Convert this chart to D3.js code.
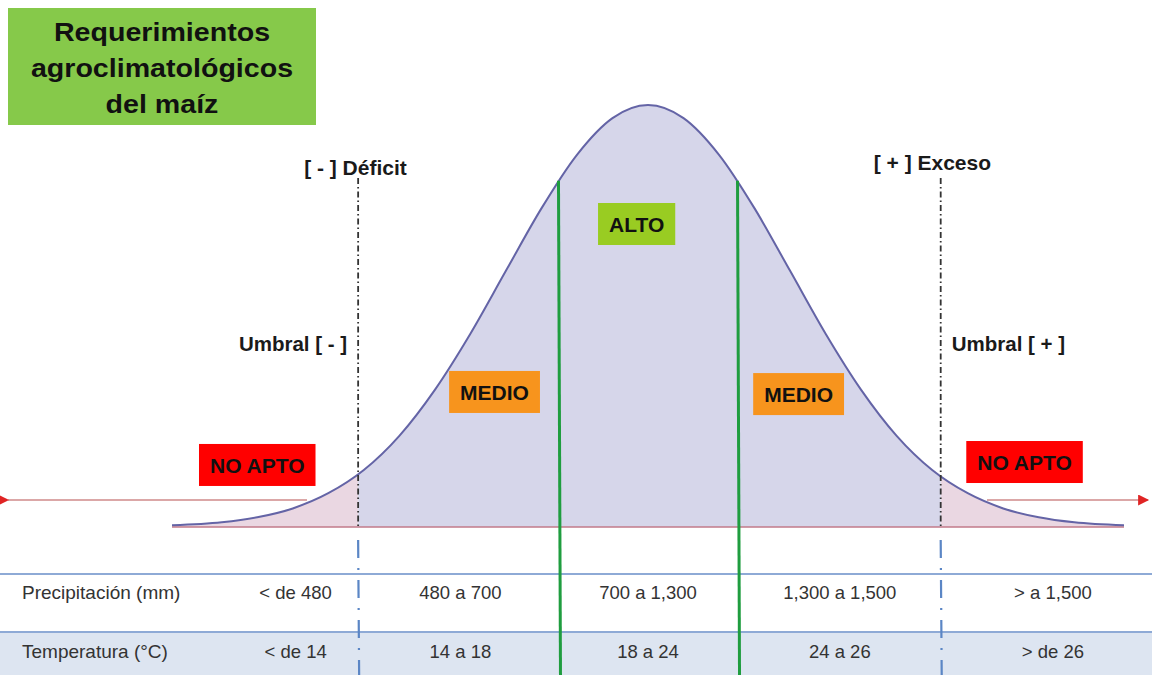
<!DOCTYPE html>
<html>
<head>
<meta charset="utf-8">
<script src="https://cdn.jsdelivr.net/npm/d3@7"></script>
<style>
  body { margin: 0; background: #fff; }
  svg text { font-family: 'Liberation Sans', Arial, sans-serif; }
</style>
</head>
<body>
<div id="chart"></div>
<script>
// bell curve, x in sigma units, height relative to peak
const curveZ = [-3.35, -3, -2.75, -2.5, -2.25, -2, -1.75, -1.5, -1.25, -1, -0.75, -0.5, -0.25, 0,
  0.25, 0.5, 0.75, 1, 1.25, 1.5, 1.75, 2, 2.25, 2.5, 2.75, 3, 3.35];
const curveH = [0.004, 0.011, 0.023, 0.044, 0.08, 0.135, 0.216, 0.325, 0.458, 0.607, 0.755, 0.882, 0.969, 1,
  0.969, 0.882, 0.755, 0.607, 0.458, 0.325, 0.216, 0.135, 0.08, 0.044, 0.023, 0.011, 0.004];

const titleLines = ['Requerimientos', 'agroclimatológicos', 'del maíz'];
const thresholds = [-2.04, 2.06];
const thresholdLabels = ['[ - ] Déficit', '[ + ] Exceso'];
const umbralLabels = ['Umbral [ - ]', 'Umbral [ + ]'];
const optimum = [-0.63, 0.63];

const zoneLabels = ['NO APTO', 'MEDIO', 'ALTO', 'MEDIO', 'NO APTO'];
const zoneZ = [-2.75, -1.08, -0.08, 1.06, 2.65];
const zoneH = [0.147, 0.32, 0.718, 0.315, 0.154];

const rowLabels = ['Precipitación (mm)', 'Temperatura (°C)'];
const colZ = [-2.48, -1.32, 0, 1.35, 2.85];
const precipitation = ['< de 480', '480 a 700', '700 a 1,300', '1,300 a 1,500', '> a 1,500'];
const temperature = ['< de 14', '14 a 18', '18 a 24', '24 a 26', '> de 26'];

const zoneColors = { 'NO APTO': '#ff0000', MEDIO: '#f7941d', ALTO: '#99cc22' };

const width = 1152;
const height = 675;
const baseY = 527;

const svg = d3.select('#chart').append('svg')
  .attr('width', width)
  .attr('height', height);

const x = d3.scaleLinear().domain([-3.35, 3.35]).range([172, 1124]);
const y = d3.scaleLinear().domain([0, 1]).range([baseY, 105]);

const points = curveZ.map((z, i) => ({ z, h: curveH[i] }));
const hAt = (z) => {
  // read height back off the sampled curve
  const i = d3.bisector((d) => d.z).left(points, z);
  if (i <= 0) return points[0].h;
  const a = points[i - 1], b = points[i];
  const t = (z - a.z) / (b.z - a.z);
  return a.h + (b.h - a.h) * t;
};

const curve = d3.curveMonotoneX;
const area = d3.area()
  .x((d) => x(d.z))
  .y0(baseY)
  .y1((d) => y(d.h))
  .curve(curve);
const line = d3.line()
  .x((d) => x(d.z))
  .y((d) => y(d.h))
  .curve(curve);

const defs = svg.append('defs');
defs.append('clipPath').attr('id', 'tails')
  .selectAll('rect')
  .data([[-4, thresholds[0]], [thresholds[1], 4]])
  .join('rect')
    .attr('x', (d) => x(d[0]))
    .attr('width', (d) => x(d[1]) - x(d[0]))
    .attr('y', 0)
    .attr('height', height);
defs.append('clipPath').attr('id', 'middle')
  .append('rect')
    .attr('x', x(thresholds[0]))
    .attr('width', x(thresholds[1]) - x(thresholds[0]))
    .attr('y', 0)
    .attr('height', height);
['left', 'right'].forEach((dir) => {
  defs.append('marker')
    .attr('id', `arrow-${dir}`)
    .attr('viewBox', '0 0 10 10')
    .attr('refX', dir === 'right' ? 9 : 1)
    .attr('refY', 5)
    .attr('markerWidth', 12)
    .attr('markerHeight', 11)
    .attr('markerUnits', 'userSpaceOnUse')
    .attr('orient', 'auto')
  .append('path')
    .attr('d', dir === 'right' ? 'M0,0L10,5L0,10Z' : 'M10,0L0,5L10,10Z')
    .attr('fill', '#e02424');
});

// title box
const title = svg.append('g');
title.append('rect')
  .attr('x', 8).attr('y', 8)
  .attr('width', 308).attr('height', 117)
  .attr('fill', '#86c94a');
title.selectAll('text')
  .data(titleLines)
  .join('text')
    .attr('transform', (d, i) => `translate(162, ${41 + i * 36}) scale(1.1, 1)`)
    .attr('text-anchor', 'middle')
    .attr('font-size', 26)
    .attr('font-weight', 'bold')
    .attr('fill', '#111')
    .text((d) => d);

// table
svg.append('rect')
  .attr('x', 0).attr('y', 632)
  .attr('width', width).attr('height', height - 632)
  .attr('fill', '#dde5f1');
svg.selectAll('.row-line')
  .data([574, 632])
  .join('line')
    .attr('class', 'row-line')
    .attr('x1', 0).attr('x2', width)
    .attr('y1', (d) => d).attr('y2', (d) => d)
    .attr('stroke', '#8eaad6')
    .attr('stroke-width', 2);

// area fills
svg.append('path')
  .datum(points)
  .attr('d', area)
  .attr('fill', '#ead7e2')
  .attr('clip-path', 'url(#tails)');
svg.append('path')
  .datum(points)
  .attr('d', area)
  .attr('fill', '#d6d6ea')
  .attr('clip-path', 'url(#middle)');

// baseline
svg.append('line')
  .attr('x1', x(-3.35)).attr('x2', x(3.35))
  .attr('y1', baseY).attr('y2', baseY)
  .attr('stroke', '#c27a8a')
  .attr('stroke-width', 1.5);

// arrows
svg.append('line')
  .attr('x1', 307).attr('x2', 8)
  .attr('y1', 500).attr('y2', 500)
  .attr('stroke', '#cf8a8a')
  .attr('stroke-width', 1.5)
  .attr('marker-end', 'url(#arrow-left)');
svg.append('line')
  .attr('x1', 987).attr('x2', 1148)
  .attr('y1', 500).attr('y2', 500)
  .attr('stroke', '#cf8a8a')
  .attr('stroke-width', 1.5)
  .attr('marker-end', 'url(#arrow-right)');

// curve outline
svg.append('path')
  .datum(points)
  .attr('d', line)
  .attr('fill', 'none')
  .attr('stroke', '#6464a6')
  .attr('stroke-width', 2);

// optimum (green) lines
svg.selectAll('.opt-line')
  .data(optimum)
  .join('line')
    .attr('class', 'opt-line')
    .attr('x1', (d) => x(d)).attr('x2', (d) => x(d) + 2)
    .attr('y1', (d) => y(hAt(d)) - 2).attr('y2', height)
    .attr('stroke', '#1f9d3f')
    .attr('stroke-width', 3);

// threshold dash-dot lines
svg.selectAll('.thr-top')
  .data(thresholds)
  .join('line')
    .attr('class', 'thr-top')
    .attr('x1', (d) => x(d)).attr('x2', (d) => x(d))
    .attr('y1', 178).attr('y2', baseY)
    .attr('stroke', '#333')
    .attr('stroke-width', 1.8)
    .attr('stroke-dasharray', '6,3,1.5,3');
svg.selectAll('.thr-bottom')
  .data(thresholds)
  .join('line')
    .attr('class', 'thr-bottom')
    .attr('x1', (d) => x(d)).attr('x2', (d) => x(d) + 1)
    .attr('y1', 540).attr('y2', height)
    .attr('stroke', '#5b86c5')
    .attr('stroke-width', 2.2)
    .attr('stroke-dasharray', '18,10,2,10');

// labels at the thresholds
svg.selectAll('.thr-label')
  .data(thresholds)
  .join('text')
    .attr('class', 'thr-label')
    .attr('x', (d, i) => x(d) + (i === 0 ? -54 : -67))
    .attr('y', (d, i) => (i === 0 ? 175 : 170))
    .attr('font-size', 21)
    .attr('font-weight', 'bold')
    .attr('fill', '#1a1a1a')
    .text((d, i) => thresholdLabels[i]);
svg.selectAll('.umbral')
  .data(thresholds)
  .join('text')
    .attr('class', 'umbral')
    .attr('x', (d, i) => (i === 0 ? x(d) - 11 : x(d) + 11))
    .attr('y', 351)
    .attr('text-anchor', (d, i) => (i === 0 ? 'end' : 'start'))
    .attr('font-size', 20.5)
    .attr('font-weight', 'bold')
    .attr('fill', '#1a1a1a')
    .text((d, i) => umbralLabels[i]);

// zone boxes
const zones = svg.selectAll('.zone')
  .data(zoneLabels)
  .join('g')
    .attr('class', 'zone')
    .attr('transform', (d, i) => `translate(${x(zoneZ[i])}, ${y(zoneH[i])})`);
zones.append('text')
  .attr('text-anchor', 'middle')
  .attr('dy', '0.36em')
  .attr('font-size', 21)
  .attr('font-weight', 'bold')
  .attr('fill', '#111')
  .text((d) => d);
zones.insert('rect', 'text')
  .each(function () {
    const w = this.parentNode.querySelector('text').getComputedTextLength() + 22;
    d3.select(this)
      .attr('x', -w / 2).attr('width', w)
      .attr('y', -21).attr('height', 42);
  })
  .attr('fill', (d) => zoneColors[d]);

// table text
svg.selectAll('.row-label')
  .data(rowLabels)
  .join('text')
    .attr('class', 'row-label')
    .attr('x', 22)
    .attr('y', (d, i) => 599 + i * 59)
    .attr('font-size', 19)
    .attr('fill', '#333')
    .text((d) => d);
[precipitation, temperature].forEach((row, r) => {
  svg.selectAll(`.cell-${r}`)
    .data(row)
    .join('text')
      .attr('class', `cell-${r}`)
      .attr('x', (d, i) => x(colZ[i]))
      .attr('y', 599 + r * 59)
      .attr('text-anchor', 'middle')
      .attr('font-size', 18.5)
      .attr('fill', '#333')
      .text((d) => d);
});
</script>
</body>
</html>
